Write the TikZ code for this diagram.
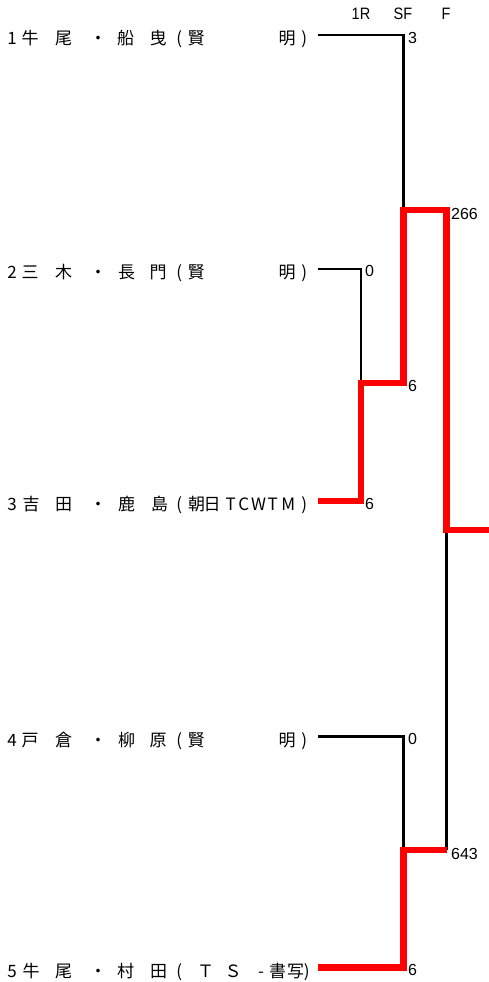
\documentclass[tikz,border=0pt]{standalone}
\usepackage{fontspec}
\setmainfont{Liberation Sans}
\newfontfamily\cjkfont{Noto Sans CJK JP}
\newcommand\gch[2]{\rlap{\hspace*{#1pt}\makebox[0pt][c]{#2}}}
\begin{document}
\begin{tikzpicture}[x=1pt,y=-1pt,
  lab/.style={inner sep=0pt,anchor=base west,font=\cjkfont\fontsize{17}{17}\selectfont},
  score/.style={inner sep=0pt,anchor=west,font=\fontsize{16}{16}\selectfont},
  head/.style={inner sep=0pt,anchor=center,font=\fontsize{16.5}{16.5}\selectfont,xscale=0.88},
  loser/.style={draw=black,line width=2.4pt},
  winner/.style={draw=red,line width=6.5pt,line join=miter}]
\useasboundingbox (0,0) rectangle (489,982);
% headers
\node[head] (h1) at (361,14) {1R};
\node[head] (h2) at (403,14) {SF};
\node[head] (h3) at (446,14) {F};
% labels
\node[lab] (lab1) at (0,44.5) {\gch{11.5}{1}\gch{29.5}{牛}\gch{63}{尾}\gch{97.5}{・}\gch{125}{船}\gch{157.5}{曳}\gch{178.5}{(}\gch{195.5}{賢}\gch{286.5}{明}\gch{303.5}{)}};
\node[lab] (lab2) at (0,278.5) {\gch{11.5}{2}\gch{29.5}{三}\gch{63}{木}\gch{97.5}{・}\gch{126}{長}\gch{157.5}{門}\gch{178.5}{(}\gch{195.5}{賢}\gch{286.5}{明}\gch{303.5}{)}};
\node[lab] (lab3) at (0,510.5) {\gch{11.5}{3}\gch{30.5}{吉}\gch{63}{田}\gch{97.5}{・}\gch{126}{鹿}\gch{159}{島}\gch{178.5}{(}\gch{196}{朝}\gch{211.5}{日}\gch{230}{T}\gch{243}{C}\gch{258}{W}\gch{272}{T}\gch{287.5}{M}\gch{303.5}{)}};
\node[lab] (lab4) at (0,746) {\gch{11.5}{4}\gch{29.5}{戸}\gch{63}{倉}\gch{97.5}{・}\gch{126}{柳}\gch{157.5}{原}\gch{178.5}{(}\gch{195.5}{賢}\gch{286.5}{明}\gch{303.5}{)}};
\node[lab] (lab5) at (0,977) {\gch{11.5}{5}\gch{30.5}{牛}\gch{63}{尾}\gch{97.5}{・}\gch{125}{村}\gch{158}{田}\gch{178.5}{(}\gch{205}{Ｔ}\gch{232.5}{Ｓ}\gch{260.5}{-}\gch{277}{書}\gch{295}{写}\gch{306}{)}};
% coordinates
\coordinate (s1) at (318,35);
\coordinate (s2) at (318,269);
\coordinate (s3) at (318,501);
\coordinate (s4) at (318,736.5);
\coordinate (s5) at (318,967.5);
\coordinate (r2) at (361,269);
\coordinate (r3) at (361,501);
\coordinate (m23) at (361,383);
\coordinate (e1) at (403.5,35);
\coordinate (e23) at (403.5,383);
\coordinate (e4) at (403.5,736.5);
\coordinate (e5) at (403.5,967.5);
\coordinate (sf1) at (403.5,210);
\coordinate (sf2) at (403.5,850);
\coordinate (f1) at (446.5,210);
\coordinate (f2) at (446.5,850);
\coordinate (fm) at (446.5,530);
\coordinate (champ) at (489,530);
% losers (black)
\draw[loser] (s1) -- (e1) -- (sf1);
\draw[loser] (s2) -- (r2) -- (m23);
\draw[loser] (s4) -- (e4) -- (sf2);
\draw[loser] (fm) -- (f2);
% winners (red)
\draw[winner] (s3) -- (r3) -- (m23) -- (e23) -- (sf1) -- (f1) -- (fm) -- (champ);
\draw[winner] (s5) -- (e5) -- (sf2) -- (f2);
% scores
\node[score] (sc1) at (408,38) {3};
\node[score] (sc2) at (365,271) {0};
\node[score] (sc3) at (365,503.5) {6};
\node[score] (sc23) at (408,386) {6};
\node[score] (sc4) at (408,739) {0};
\node[score] (sc5) at (408,970) {6};
\node[score] (scf1) at (451,213.5) {266};
\node[score] (scf2) at (451,853.5) {643};
\end{tikzpicture}
\end{document}
